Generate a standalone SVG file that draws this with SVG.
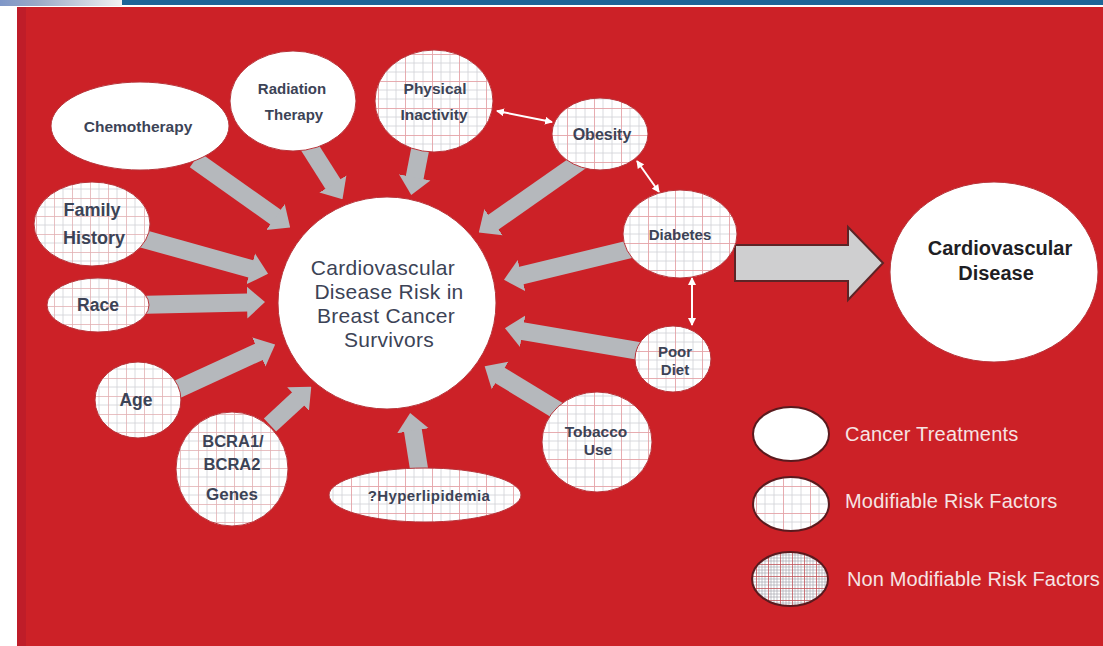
<svg xmlns="http://www.w3.org/2000/svg" width="1103" height="646" viewBox="0 0 1103 646">
<style>
.nt{font-family:"Liberation Sans",Arial,sans-serif;font-weight:bold;fill:#3c4356;text-anchor:middle}
.ct{font-family:"Liberation Sans",Arial,sans-serif;font-size:21px;fill:#3c4356;text-anchor:middle;letter-spacing:0.3px}
.lt{font-family:"Liberation Sans",Arial,sans-serif;font-size:20px;fill:#f6e4e4}
.node{stroke:#b8343a;stroke-width:1}
.leg{stroke:#5a1a1e;stroke-width:2}
.ga{stroke:#b5b8bc;stroke-width:18;fill:none;marker-end:url(#ah)}
.wl{stroke:#fff;stroke-width:2;fill:none;marker-start:url(#wh);marker-end:url(#wh)}
</style>
<defs>
<linearGradient id="topg" x1="0" x2="1" y1="0" y2="0">
<stop offset="0" stop-color="#7f97c8"/><stop offset="0.3" stop-color="#9aa9c6"/><stop offset="1" stop-color="#f2f2f2"/>
</linearGradient>
<pattern id="gridM" width="27" height="27" patternUnits="userSpaceOnUse">
<rect width="27" height="27" fill="#fff"/>
<path d="M9 0V27M18 0V27M0 9H27M0 18H27" stroke="#cfd0d6" stroke-width="0.8"/>
<path d="M0.5 0V27M0 0.5H27" stroke="#e4a3a7" stroke-width="0.9"/>
</pattern>
<pattern id="gridN" width="18" height="18" patternUnits="userSpaceOnUse">
<rect width="18" height="18" fill="#fff"/>
<path d="M9 0V18M0 9H18" stroke="#cfd0d6" stroke-width="0.8"/>
<path d="M0.5 0V18M0 0.5H18" stroke="#e2b0b3" stroke-width="0.8"/>
</pattern>
<pattern id="gridL" width="12" height="12" patternUnits="userSpaceOnUse">
<rect width="12" height="12" fill="#fff"/>
<path d="M3 0V12M6 0V12M9 0V12M0 3H12M0 6H12M0 9H12" stroke="#9a9aa2" stroke-width="0.6"/>
<path d="M0.5 0V12M0 0.5H12" stroke="#c0555c" stroke-width="0.8"/>
</pattern>
<marker id="ah" markerUnits="userSpaceOnUse" markerWidth="18" markerHeight="34" viewBox="0 0 18 34" refX="1" refY="17" orient="auto">
<path d="M0,1 L18,17 L0,33 Z" fill="#b5b8bc"/>
</marker>
<marker id="wh" markerUnits="userSpaceOnUse" markerWidth="8" markerHeight="8" viewBox="0 0 8 8" refX="7" refY="4" orient="auto-start-reverse">
<path d="M0,0 L8,4 L0,8 Z" fill="#fff"/>
</marker>
</defs>

<rect x="0" y="0" width="1103" height="646" fill="#fff"/>
<rect x="0" y="0" width="122" height="6" fill="url(#topg)"/>
<rect x="122" y="0" width="981" height="5" fill="#1d6598"/>
<rect x="17" y="7" width="1086" height="639" fill="#cc2127"/>
<rect x="17" y="7" width="9" height="639" fill="#b91d2b" opacity="0.7"/>

<g id="connectors">
<line class="ga" x1="195" y1="160" x2="276.3" y2="217.6"/>
<line class="ga" x1="305" y1="140" x2="333.4" y2="184.8"/>
<line class="ga" x1="421" y1="145" x2="414.5" y2="178.3"/>
<line class="ga" x1="585" y1="158" x2="492.7" y2="222.7"/>
<line class="ga" x1="635" y1="248" x2="520.5" y2="275.8"/>
<line class="ga" x1="645" y1="352" x2="521.7" y2="331"/>
<line class="ga" x1="565" y1="415" x2="499.2" y2="375"/>
<line class="ga" x1="420" y1="475" x2="412.8" y2="429.8"/>
<line class="ga" x1="270" y1="425" x2="298.8" y2="398.3"/>
<line class="ga" x1="165" y1="395" x2="259.7" y2="351.5"/>
<line class="ga" x1="135" y1="305" x2="248" y2="302.4"/>
<line class="ga" x1="140" y1="238" x2="251.7" y2="269.2"/>
<line class="wl" x1="497" y1="111" x2="552" y2="122"/>
<line class="wl" x1="637" y1="161" x2="659" y2="192"/>
<line class="wl" x1="692" y1="278" x2="692" y2="325"/>
<path d="M735,245 L848,245 L848,227 L883,263 L848,300 L848,281 L735,281 Z" fill="#cfcfd0" stroke="#5c2426" stroke-width="2"/>
</g>

<g id="center">
<ellipse cx="387" cy="303" rx="109" ry="106" fill="#fff" class="node"/>
<text class="ct" x="383" y="275">Cardiovascular</text>
<text class="ct" x="389" y="299">Disease Risk in</text>
<text class="ct" x="386" y="323">Breast Cancer</text>
<text class="ct" x="389" y="347">Survivors</text>
</g>

<g id="chemotherapy">
<ellipse cx="140" cy="126" rx="89" ry="44" fill="#fff" class="node"/>
<text class="nt" x="138" y="132" font-size="15.5">Chemotherapy</text>
</g>
<g id="radiation">
<ellipse cx="293" cy="101" rx="63" ry="50" fill="#fff" class="node"/>
<text class="nt" x="292" y="94" font-size="15">Radiation</text>
<text class="nt" x="294" y="120" font-size="15">Therapy</text>
</g>
<g id="physical-inactivity">
<ellipse cx="434" cy="101" rx="59" ry="51" fill="url(#gridM)" class="node"/>
<text class="nt" x="435" y="94" font-size="15.5">Physical</text>
<text class="nt" x="434" y="120" font-size="15.5">Inactivity</text>
</g>
<g id="obesity">
<ellipse cx="600" cy="134" rx="48" ry="36" fill="url(#gridM)" class="node"/>
<text class="nt" x="602" y="140" font-size="16">Obesity</text>
</g>
<g id="diabetes">
<ellipse cx="680" cy="234" rx="57" ry="44" fill="url(#gridM)" class="node"/>
<text class="nt" x="680" y="240" font-size="15">Diabetes</text>
</g>
<g id="poor-diet">
<ellipse cx="673" cy="359" rx="38" ry="33" fill="url(#gridM)" class="node"/>
<text class="nt" x="675" y="357" font-size="15">Poor</text>
<text class="nt" x="675" y="375" font-size="15">Diet</text>
</g>
<g id="tobacco-use">
<ellipse cx="597" cy="442" rx="55" ry="50" fill="url(#gridM)" class="node"/>
<text class="nt" x="596" y="437" font-size="15.5">Tobacco</text>
<text class="nt" x="598" y="455" font-size="15.5">Use</text>
</g>
<g id="hyperlipidemia">
<ellipse cx="425" cy="495" rx="96" ry="27" fill="url(#gridM)" class="node"/>
<text class="nt" x="429" y="501" font-size="15" letter-spacing="0.4">?Hyperlipidemia</text>
</g>
<g id="bcra-genes">
<ellipse cx="232" cy="469" rx="56" ry="57" fill="url(#gridN)" class="node"/>
<text class="nt" x="233" y="447" font-size="16.5">BCRA1/</text>
<text class="nt" x="232" y="470" font-size="16.5">BCRA2</text>
<text class="nt" x="232" y="500" font-size="17">Genes</text>
</g>
<g id="age">
<ellipse cx="138" cy="400" rx="43" ry="38" fill="url(#gridN)" class="node"/>
<text class="nt" x="136" y="406" font-size="17.5">Age</text>
</g>
<g id="race">
<ellipse cx="98" cy="305" rx="51" ry="27" fill="url(#gridN)" class="node"/>
<text class="nt" x="98" y="311" font-size="17.5">Race</text>
</g>
<g id="family-history">
<ellipse cx="92" cy="224" rx="58" ry="42" fill="url(#gridN)" class="node"/>
<text class="nt" x="92" y="216" font-size="18">Family</text>
<text class="nt" x="94" y="244" font-size="18">History</text>
</g>
<g id="cardiovascular-disease">
<ellipse cx="994" cy="272" rx="104" ry="90" fill="#fff" class="node"/>
<text class="nt" x="1000" y="255" font-size="20" style="fill:#1e1e24">Cardiovascular</text>
<text class="nt" x="996" y="280" font-size="20" style="fill:#1e1e24">Disease</text>
</g>

<g id="legend">
<ellipse cx="791" cy="434" rx="38" ry="27" fill="#fff" class="leg"/>
<text class="lt" x="845" y="441" letter-spacing="0.2">Cancer Treatments</text>
<ellipse cx="791" cy="504" rx="38" ry="27" fill="url(#gridM)" class="leg"/>
<text class="lt" x="845" y="508" letter-spacing="0.2">Modifiable Risk Factors</text>
<ellipse cx="790" cy="579" rx="38" ry="27" fill="url(#gridL)" class="leg"/>
<text class="lt" x="847" y="586" letter-spacing="0.1">Non Modifiable Risk Factors</text>
</g>
</svg>
